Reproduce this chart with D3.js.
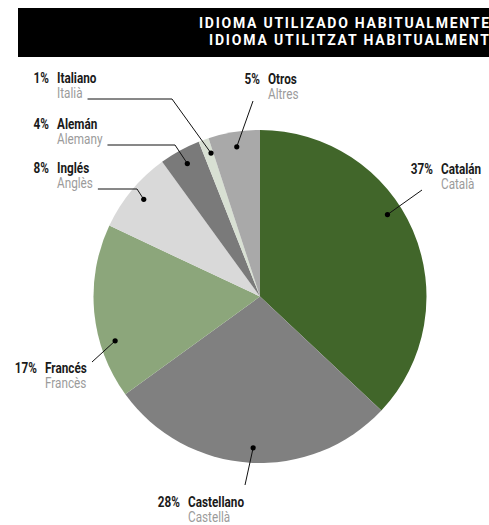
<!DOCTYPE html>
<html>
<head>
<meta charset="utf-8">
<script src="https://cdn.jsdelivr.net/npm/d3@7"></script>
<style>
  html, body { margin: 0; padding: 0; background: #fff; }
  svg { display: block; }
  .lbl { font-family: Roboto, "Noto Sans", sans-serif; font-size: 14px; }
</style>
</head>
<body>
<svg id="chart" width="489" height="525"></svg>
<script>
// Languages spoken habitually (Spanish / Catalan names) and their share in %
const namesEs = ["Catalán", "Castellano", "Francés", "Inglés", "Alemán", "Italiano", "Otros"];
const namesCa = ["Català", "Castellà", "Francès", "Anglès", "Alemany", "Italià", "Altres"];
const shares = [37, 28, 17, 8, 4, 1, 5];
const sliceColors = ["#41662a", "#808080", "#8ca67b", "#d9d9d9", "#7a7a7a", "#d8e0d3", "#a9a9a9"];
const titleLines = ["IDIOMA UTILIZADO HABITUALMENTE", "IDIOMA UTILITZAT HABITUALMENT"];

const svg = d3.select("#chart");
const W = 489, H = 525;
const NARROW = 0.84; // horizontal squeeze giving a condensed face for labels

// Title banner
svg.append("rect").attr("x", 18).attr("y", 8).attr("width", W - 18).attr("height", 49).attr("fill", "#000");
const titleSpecs = [{ y: 28, len: 290 }, { y: 44.5, len: 280 }];
titleLines.forEach((t, i) => {
  svg.append("text")
    .attr("x", 489).attr("y", titleSpecs[i].y)
    .attr("text-anchor", "end")
    .attr("textLength", titleSpecs[i].len)
    .attr("lengthAdjust", "spacing")
    .style("font-family", "Roboto, 'DejaVu Sans', sans-serif")
    .style("font-weight", 700)
    .style("font-size", "14px")
    .attr("fill", "#fff")
    .text(t);
});

// Pie
const cx = 260, cy = 296.5, R = 166.5;
const pie = d3.pie().sort(null).value(d => d);
const arcs = pie(shares);
const arc = d3.arc().innerRadius(0).outerRadius(R);

const g = svg.append("g").attr("transform", `translate(${cx},${cy})`);
g.selectAll("path.slice")
  .data(arcs)
  .join("path")
  .attr("class", "slice")
  .attr("d", arc)
  .attr("fill", (d, i) => sliceColors[i]);

// Label placement: name x, first-line baseline, leader start and optional elbow,
// and where inside the slice the leader ends (fraction of angle span).
const labelLayout = [
  { x: 441, y: 174, from: [422, 190], at: 0.43 },
  { x: 188, y: 507, from: [245, 485], at: 0.49 },
  { x: 45,  y: 373, from: [92, 362],  at: 0.31 },
  { x: 57,  y: 173, elbow: 137, at: 0.51 },
  { x: 57,  y: 129, elbow: 175, at: 0.51 },
  { x: 57,  y: 83,  elbow: 172, at: 0.76 },
  { x: 268, y: 84,  from: [253, 101], at: 0.51 }
];

function narrowText(parent, x, y, str) {
  return parent.append("text").attr("class", "lbl")
    .attr("transform", `translate(${x},${y}) scale(${NARROW},1)`)
    .text(str);
}

const labels = svg.append("g").attr("class", "labels");
arcs.forEach((d, i) => {
  const L = labelLayout[i];
  const grp = labels.append("g");
  narrowText(grp, L.x - 8, L.y, shares[i] + "%")
    .attr("text-anchor", "end")
    .attr("fill", "#1a1a1a").style("font-weight", 700);
  narrowText(grp, L.x, L.y, namesEs[i])
    .attr("fill", "#1a1a1a").style("font-weight", 700);
  const sub = narrowText(grp, L.x, L.y + 15, namesCa[i])
    .attr("fill", "#9b9b9b");

  const ang = d.startAngle + L.at * (d.endAngle - d.startAngle);
  const p = d3.pointRadial(ang, R * 0.91);
  const dot = [cx + p[0], cy + p[1]];

  let pts;
  if (L.elbow !== undefined) {
    const ly = L.y + 16;
    const sx = L.x + sub.node().getComputedTextLength() * NARROW + 5;
    pts = [[sx, ly], [L.elbow, ly], dot];
  } else {
    pts = [L.from, dot];
  }
  grp.append("path")
    .attr("d", d3.line()(pts))
    .attr("fill", "none")
    .attr("stroke", "#111")
    .attr("stroke-width", 1);
  grp.append("circle")
    .attr("cx", dot[0]).attr("cy", dot[1]).attr("r", 2.6)
    .attr("fill", "#000");
});
</script>
</body>
</html>
